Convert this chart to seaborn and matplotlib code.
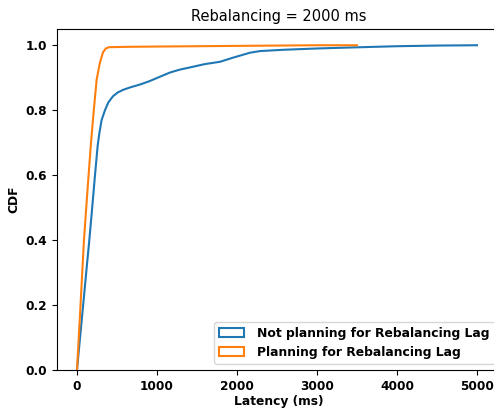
import matplotlib
matplotlib.use("Agg")
import matplotlib.pyplot as plt
from matplotlib.patches import Patch
import seaborn as sns
import pandas as pd

# CDF of latency (ms)
blue_label = "Not planning for Rebalancing Lag"
blue_ms = [0, 38, 77, 115, 154, 190, 225, 258, 280, 308, 350, 392, 450, 512, 580, 662,
           800, 912, 1037, 1162, 1287, 1454, 1600, 1787, 1954, 2162, 2287, 2579, 2996,
           3412, 4000, 4500, 5000]
blue_cdf = [0.0, 0.10, 0.20, 0.30, 0.40, 0.50, 0.60, 0.69, 0.73, 0.77, 0.80, 0.824, 0.843,
            0.855, 0.863, 0.870, 0.880, 0.890, 0.903, 0.916, 0.925, 0.934, 0.942, 0.949,
            0.962, 0.977, 0.982, 0.986, 0.990, 0.993, 0.997, 0.999, 1.0]

orange_label = "Planning for Rebalancing Lag"
orange_ms = [0, 44, 87, 130, 175, 210, 246, 287, 325, 360, 400, 600, 1000, 1500, 2000,
             2500, 3000, 3500]
orange_cdf = [0.0, 0.20, 0.40, 0.55, 0.70, 0.80, 0.895, 0.947, 0.978, 0.990, 0.994, 0.995,
              0.996, 0.997, 0.998, 0.999, 1.0, 1.0]

title = "Rebalancing = 2000 ms"
xticks = [0, 1000, 2000, 3000, 4000, 5000]
yticks = [0.0, 0.2, 0.4, 0.6, 0.8, 1.0]

df = pd.concat([
    pd.DataFrame({"Latency": blue_ms, "CDF": blue_cdf, "series": blue_label}),
    pd.DataFrame({"Latency": orange_ms, "CDF": orange_cdf, "series": orange_label}),
])
colors = {blue_label: "#1f77b4", orange_label: "#ff7f0e"}

W, H = 494, 409
fig = plt.figure(figsize=(W / 100, H / 100), dpi=100)
ax = fig.add_axes([57 / W, (H - 370) / H, (501 - 57) / W, (370 - 29) / H])

sns.lineplot(data=df, x="Latency", y="CDF", hue="series", palette=colors,
             estimator=None, sort=False, linewidth=1.5, ax=ax, legend=False)

ax.set_xlim(-250, 5300)
ax.set_ylim(0, 1.05)
ax.set_xticks(xticks)
ax.set_yticks(yticks)
ax.set_xticklabels([str(t) for t in xticks], fontsize=8.7, fontweight="bold")
ax.set_yticklabels([f"{t:.1f}" for t in yticks], fontsize=8.7, fontweight="bold")
ax.set_xlabel("Latency (ms)", fontsize=8.8, fontweight="bold", labelpad=2)
ax.set_ylabel("CDF", fontsize=8.8, fontweight="bold")
ax.set_title(title, fontsize=10.5)

handles = [Patch(facecolor="none", edgecolor=colors[blue_label], linewidth=1.5),
           Patch(facecolor="none", edgecolor=colors[orange_label], linewidth=1.5)]
ax.legend(handles, [blue_label, orange_label], loc="lower right",
          prop={"weight": "bold", "size": 8.9}, handletextpad=1.1)

fig.savefig("out.png", dpi=100)
